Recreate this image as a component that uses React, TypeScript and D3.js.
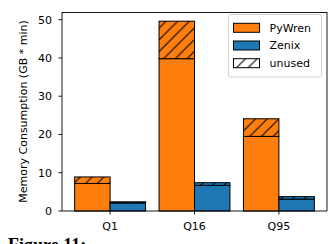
import React from 'react';
import * as d3 from 'd3';

const width = 332;
const height = 244;
const margin = {top: 12, right: 5, bottom: 33, left: 62};
const orange = '#ff7f0e';
const blue = '#1f77b4';
const font = 'DejaVu Sans, sans-serif';

const categories = ['Q1', 'Q16', 'Q95'];
const pywrenUsed = [7.2, 39.8, 19.5];
const pywrenTotal = [8.9, 49.6, 24.1];
const zenixUsed = [2.1, 6.7, 3.1];
const zenixTotal = [2.4, 7.4, 3.75];
const yTicks = [0, 10, 20, 30, 40, 50];
const legendItems = ['PyWren', 'Zenix', 'unused'];

const barWidth = 0.42;
const hatchSize = 11.7;

const App: React.FC = () => {
  const xScale = d3.scaleLinear()
    .domain([-0.57, 2.57])
    .range([margin.left, width - margin.right]);

  const yScale = d3.scaleLinear()
    .domain([0, 52])
    .range([height - margin.bottom, margin.top]);

  const bw = xScale(barWidth) - xScale(0);
  const x0 = xScale.range()[0];
  const x1 = xScale.range()[1];
  const y0 = yScale.range()[0];
  const y1 = yScale.range()[1];

  const series = [
    {name: 'PyWren', color: orange, used: pywrenUsed, total: pywrenTotal, offset: -1},
    {name: 'Zenix', color: blue, used: zenixUsed, total: zenixTotal, offset: 0},
  ];

  const h = hatchSize;
  const hatchPath = `M-1,1 l2,-2 M0,${h} l${h},${-h} M${h - 1},${h + 1} l2,-2`;

  return (
    <svg width={width} height={height} style={{position: 'absolute', left: 0, top: 0, background: '#fff'}}>
      <defs>
        <pattern id="hatch" patternUnits="userSpaceOnUse" width={h} height={h}>
          <path d={hatchPath} stroke="#000" strokeWidth={1.1} />
        </pattern>
      </defs>
      <rect x={0} y={0} width={width} height={height} fill="#fff" />

      {/* bars */}
      {series.map(s => (
        <g key={s.name}>
          {categories.map((c, i) => {
            const left = xScale(i) + s.offset * bw;
            return (
              <g key={c}>
                <rect x={left} y={yScale(s.used[i])} width={bw}
                  height={yScale(0) - yScale(s.used[i])}
                  fill={s.color} stroke="#000" strokeWidth={1} />
                <rect x={left} y={yScale(s.total[i])} width={bw}
                  height={yScale(s.used[i]) - yScale(s.total[i])}
                  fill={s.color} stroke="none" />
                <rect x={left} y={yScale(s.total[i])} width={bw}
                  height={yScale(s.used[i]) - yScale(s.total[i])}
                  fill="url(#hatch)" stroke="#000" strokeWidth={1} />
              </g>
            );
          })}
        </g>
      ))}

      {/* spines */}
      <line x1={x0} x2={x1} y1={y1 + 0.5} y2={y1 + 0.5} stroke="#000" strokeWidth={0.9} />
      <line x1={x1} x2={x1} y1={y1} y2={y0} stroke="#000" strokeWidth={0.9} />
      <line x1={x0} x2={x0} y1={y1} y2={y0} stroke="#000" strokeWidth={0.9} />
      <line x1={x0} x2={x1} y1={y0} y2={y0} stroke="#000" strokeWidth={0.9} />

      {/* y axis */}
      {yTicks.map(t => (
        <g key={t} transform={`translate(0, ${yScale(t)})`}>
          <line x1={x0 - 3.5} x2={x0} stroke="#000" strokeWidth={0.9} />
          <text x={x0 - 10} dy="0.36em" textAnchor="end" fontFamily={font} fontSize={11} fill="#000">{t}</text>
        </g>
      ))}
      <text transform={`translate(26.5, ${(y0 + y1) / 2}) rotate(-90)`} textAnchor="middle"
        fontFamily={font} fontSize={11} fill="#000">Memory Consumption (GB * min)</text>

      {/* x axis */}
      {categories.map((c, i) => (
        <g key={c} transform={`translate(${xScale(i)}, ${y0})`}>
          <line y1={0} y2={3.5} stroke="#000" strokeWidth={0.9} />
          <text y={19} textAnchor="middle" fontFamily={font} fontSize={11} fill="#000">{c}</text>
        </g>
      ))}

      {/* legend */}
      <rect x={228.5} y={14.5} width={93} height={62.5} rx={2.5} fill="#fff" fillOpacity={0.8} stroke="#d0d0d0" strokeWidth={1} />
      {legendItems.map((name, i) => {
        const ly = 23.3 + i * 17.7;
        const fill = i === 0 ? orange : i === 1 ? blue : 'url(#hatch)';
        return (
          <g key={name}>
            {i === 2 && <rect x={233.5} y={ly} width={26} height={9} fill="#fff" />}
            <rect x={233.5} y={ly} width={26} height={9} fill={fill} stroke="#000" strokeWidth={1} />
            <text x={269.5} y={ly + 4.5} dy="0.36em" fontFamily={font} fontSize={11} fill="#000">{name}</text>
          </g>
        );
      })}

      {/* caption of the page, cut off by the bottom edge as in the reference */}
      <text x={8} y={251} fontFamily="Liberation Serif, serif" fontWeight="bold" fontSize={18} fill="#000">Figure 11:</text>
    </svg>
  );
};

export default App;
